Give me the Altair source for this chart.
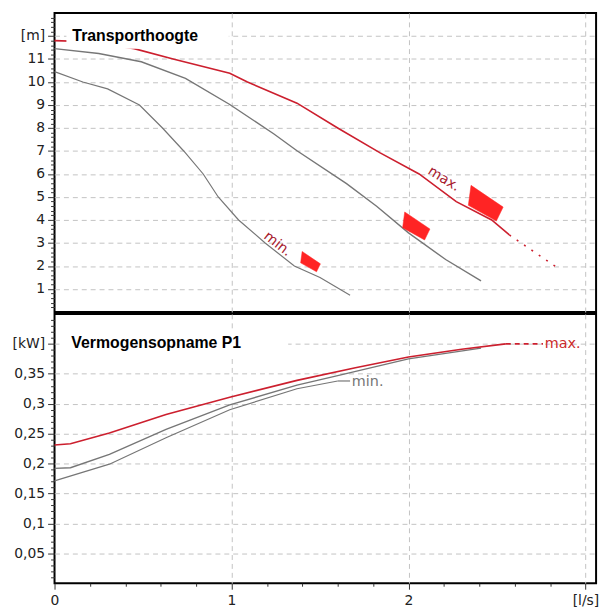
import altair as alt
import pandas as pd

# ---------------- Transporthoogte (head, m) ----------------
h_max_q = [0, 0.2, 0.45, 0.67, 0.99, 1.09, 1.37, 1.6, 1.84, 2.06, 2.27, 2.47, 2.57]
h_max_v = [11.8, 11.75, 11.45, 11.0, 10.38, 10.0, 9.08, 8.0, 6.92, 6.0, 4.8, 4.0, 3.35]
h_max_ext_q = [2.57, 2.84]
h_max_ext_v = [3.35, 1.93]
h_mid_q = [0, 0.25, 0.49, 0.74, 0.99, 1.24, 1.37, 1.65, 1.82, 2.0, 2.21, 2.41]
h_mid_v = [11.45, 11.24, 10.88, 10.16, 9.02, 7.74, 7.01, 5.58, 4.6, 3.44, 2.28, 1.35]
h_min_q = [0, 0.16, 0.3, 0.48, 0.61, 0.73, 0.84, 0.925, 1.04, 1.19, 1.355, 1.5, 1.67]
h_min_v = [10.45, 10.0, 9.7, 9.0, 8.0, 7.0, 6.0, 5.0, 4.0, 3.0, 2.0, 1.5, 0.73]

# operating-point flags (q, h, area)
flag_q = [1.445, 2.042, 2.434]
flag_v = [2.19, 3.74, 4.73]
flag_size = [420, 800, 1300]

top_lbl_text = ["min.", "max."]
top_lbl_q = [1.26, 2.2]
top_lbl_v = [2.95, 5.78]
top_lbl_angle = [38, 32]

# ---------------- Vermogensopname P1 (kW) ----------------
p_max_q = [0, 0.09, 0.31, 0.63, 0.99, 1.37, 1.7, 2.0, 2.3, 2.55]
p_max_v = [0.231, 0.233, 0.251, 0.282, 0.311, 0.339, 0.360, 0.378, 0.391, 0.400]
p_max_ext_q = [2.55, 2.76]
p_max_ext_v = [0.400, 0.400]
p_mid_q = [0, 0.09, 0.31, 0.63, 0.99, 1.37, 1.6, 2.0, 2.41]
p_mid_v = [0.192, 0.193, 0.2155, 0.257, 0.298, 0.331, 0.347, 0.375, 0.393]
p_min_q = [0, 0.31, 0.63, 0.99, 1.37, 1.6]
p_min_v = [0.171, 0.199, 0.243, 0.290, 0.325, 0.338]
p_min_ext_q = [1.6, 1.67]
p_min_ext_v = [0.338, 0.338]

bot_lbl_text = ["min.", "max."]
bot_lbl_q = [1.68, 2.77]
bot_lbl_v = [0.337, 0.400]

# axis tick values
x_ticks = [round(i * 0.2, 1) for i in range(0, 16)]
top_y_ticks = [round(i * 0.2, 1) for i in range(1, 65)]
bot_y_ticks = [round(i * 0.01, 2) for i in range(1, 45)]

RED = "#cc1f2e"
GRAY = "#767676"
FLAG = "#ff2424"
GRID = "#c2c2c2"
DASH = [5, 4]


def series(name, q, v):
    return pd.DataFrame({"series": name, "q": q, "v": v, "i": list(range(len(q)))})


top_lines = pd.concat([
    series("max", h_max_q, h_max_v),
    series("mid", h_mid_q, h_mid_v),
    series("min", h_min_q, h_min_v),
])
top_ext = series("max", h_max_ext_q, h_max_ext_v)
flags = pd.DataFrame({"q": flag_q, "v": flag_v, "s": flag_size})
top_lbls = pd.DataFrame({"t": top_lbl_text, "q": top_lbl_q, "v": top_lbl_v, "a": top_lbl_angle})

bot_lines = pd.concat([
    series("mid", p_mid_q, p_mid_v),
    series("min", p_min_q, p_min_v),
    series("max", p_max_q, p_max_v),
])
bot_ext_max = series("max", p_max_ext_q, p_max_ext_v)
bot_ext_min = series("min", p_min_ext_q, p_min_ext_v)
bot_lbls = pd.DataFrame({"t": bot_lbl_text, "q": bot_lbl_q, "v": bot_lbl_v,
                         "c": [GRAY, "#cc2a2a"]})

W = 547
H_TOP = 302
H_BOT = 272
xscale = alt.Scale(domain=[0, 3.06], nice=False, zero=False)
top_yscale = alt.Scale(domain=[0, 13], nice=False, zero=False)
bot_yscale = alt.Scale(domain=[0, 0.45], nice=False, zero=False)
col = alt.Color("series:N", scale=alt.Scale(domain=["max", "mid", "min"], range=[RED, GRAY, GRAY]), legend=None)
width_enc = alt.StrokeWidth("series:N", scale=alt.Scale(domain=["max", "mid", "min"], range=[1.6, 1.2, 1.2]), legend=None)

int_test = "abs(datum.value - round(datum.value)) < 0.001"
x_grid_test = f"({int_test}) && datum.value > 0.5"
top_lab_test = f"({int_test}) && datum.value > 0.5 && datum.value < 12.5"

x_top_axis = alt.Axis(values=[1, 2, 3], grid=True, labels=False, ticks=False, domain=False,
                      gridDash=DASH, gridColor=GRID, title=None)

top_y_axis = alt.Axis(
    values=top_y_ticks, title=None, domain=False, grid=True, gridDash=DASH, gridColor=GRID,
    gridOpacity={"condition": {"test": top_lab_test, "value": 1}, "value": 0},
    tickSize=7,
    tickDash={"condition": {"test": int_test, "value": [7, 0]}, "value": [4, 20]},
    labelFontSize={"condition": {"test": top_lab_test, "value": 14}, "value": 0},
    labelExpr=f"{top_lab_test} ? (datum.value > 11.5 ? '[m]' : format(datum.value, 'd')) : ''",
    labelOverlap=False, labelPadding=3, labelBound=False,
)

maj5 = "abs(datum.value * 20 - round(datum.value * 20)) < 0.001"
bot_lab_test = f"({maj5}) && datum.value > 0.02 && datum.value < 0.42"
bot_y_axis = alt.Axis(
    values=bot_y_ticks, title=None, domain=False, grid=True, gridDash=DASH, gridColor=GRID,
    gridOpacity={"condition": {"test": bot_lab_test, "value": 1}, "value": 0},
    tickSize=7,
    tickDash={"condition": {"test": maj5, "value": [7, 0]}, "value": [4, 20]},
    labelFontSize={"condition": {"test": bot_lab_test, "value": 14}, "value": 0},
    labelExpr=f"{bot_lab_test} ? (datum.value > 0.39 ? '[kW]' : replace(format(datum.value, '.2~f'), '.', ',')) : ''",
    labelOverlap=False, labelPadding=3, labelBound=False,
)

x_bot_axis = alt.Axis(
    values=x_ticks, title=None, domain=False, grid=True, gridDash=DASH, gridColor=GRID,
    gridOpacity={"condition": {"test": x_grid_test, "value": 1}, "value": 0},
    tickSize=6,
    tickDash={"condition": {"test": int_test, "value": [6, 0]}, "value": [3, 20]},
    labelFontSize={"condition": {"test": int_test, "value": 14}, "value": 0},
    labelExpr=f"({int_test}) ? (datum.value > 2.5 ? '[l/s]' : format(datum.value, 'd')) : ''",
    labelOverlap=False, labelPadding=4, labelFlush=False, labelBound=False,
)

# ---------------- top panel ----------------
t_lines = alt.Chart(top_lines).mark_line().encode(
    color=col, strokeWidth=width_enc, detail="series:N", order="i:Q",
)
t_ext = alt.Chart(top_ext).mark_line(color=RED, strokeWidth=1.6, strokeDash=[2, 7]).encode(order="i:Q")
t_flags = alt.Chart(flags).mark_point(
    shape="M -0.8 -1 L 1 0.22 L 0.62 1 L -0.95 0.12 Z",
    filled=True, fill=FLAG, stroke=FLAG, strokeWidth=0.5, opacity=1,
).encode(size=alt.Size("s:Q", scale=None, legend=None))
t_lbls = alt.Chart(top_lbls).mark_text(font="DejaVu Sans", fontSize=14, color="#a8202e").encode(
    text="t:N", angle=alt.Angle("a:Q", scale=None),
)
t_box = alt.Chart(pd.DataFrame({"t": ["Transporthoogte"]})).mark_rect(color="white").encode(
    x=alt.value(12), x2=alt.value(176), y=alt.value(10), y2=alt.value(36)
)
t_title = alt.Chart(pd.DataFrame({"t": ["Transporthoogte"]})).mark_text(
    align="left", baseline="middle", font="Liberation Sans", fontWeight="bold", fontSize=16, color="black"
).encode(x=alt.value(18), y=alt.value(23), text="t:N")

top = alt.layer(t_lines, t_ext, t_box, t_title, t_flags, t_lbls).encode(
    x=alt.X("q:Q", scale=xscale, axis=x_top_axis),
    y=alt.Y("v:Q", scale=top_yscale, axis=top_y_axis),
).properties(width=W, height=H_TOP)

# ---------------- bottom panel ----------------
b_lines = alt.Chart(bot_lines).mark_line().encode(
    color=col, strokeWidth=width_enc, detail="series:N", order="i:Q",
)
b_ext_max = alt.Chart(bot_ext_max).mark_line(color=RED, strokeWidth=1.6, strokeDash=[5, 4]).encode(order="i:Q")
b_ext_min = alt.Chart(bot_ext_min).mark_line(color=GRAY, strokeWidth=1.2).encode(order="i:Q")
b_lbls = alt.Chart(bot_lbls).mark_text(font="DejaVu Sans", fontSize=14.5, align="left", baseline="middle").encode(
    text="t:N", color=alt.Color("c:N", scale=None),
)
b_box = alt.Chart(pd.DataFrame({"t": ["Vermogensopname P1"]})).mark_rect(color="white").encode(
    x=alt.value(5), x2=alt.value(236), y=alt.value(17), y2=alt.value(43)
)
b_title = alt.Chart(pd.DataFrame({"t": ["Vermogensopname P1"]})).mark_text(
    align="left", baseline="middle", font="Liberation Sans", fontWeight="bold", fontSize=16, color="black"
).encode(x=alt.value(17), y=alt.value(29), text="t:N")

bottom = alt.layer(b_lines, b_ext_max, b_ext_min, b_box, b_title, b_lbls).encode(
    x=alt.X("q:Q", scale=xscale, axis=x_bot_axis),
    y=alt.Y("v:Q", scale=bot_yscale, axis=bot_y_axis),
).properties(width=W, height=H_BOT)

chart = alt.vconcat(top, bottom, spacing=0).properties(
    padding={"left": 3, "top": 1, "right": 4, "bottom": 1}
).configure_view(
    stroke="black", strokeWidth=2
).configure_axis(
    labelFont="DejaVu Sans", labelFontSize=14, labelColor="#222222", tickColor="#333333", tickWidth=1
)

chart.save("out.html", embed_options={"renderer": "svg", "actions": False})
